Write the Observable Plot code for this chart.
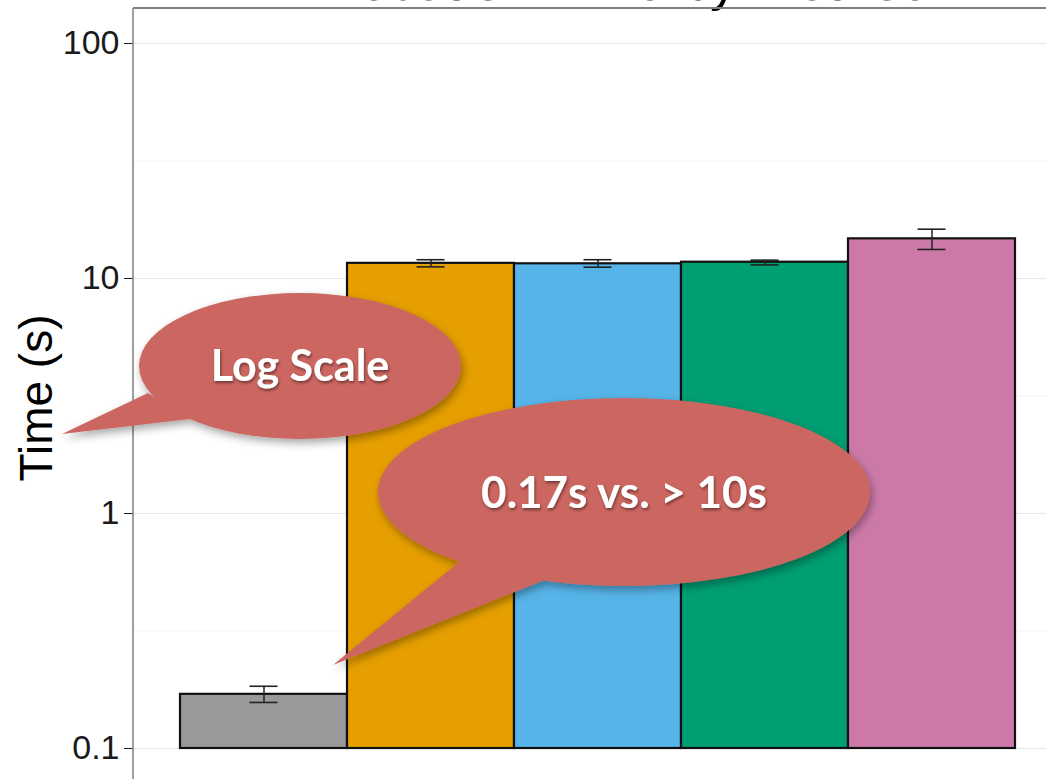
<!DOCTYPE html>
<html>
<head>
<meta charset="utf-8">
<script src="https://cdn.jsdelivr.net/npm/d3@7"></script>
<script src="https://cdn.jsdelivr.net/npm/@observablehq/plot@0.6"></script>
<style>
  html, body { margin: 0; padding: 0; background: #ffffff; }
  #chart { width: 1046px; height: 779px; overflow: hidden; }
</style>
</head>
<body>
<div id="chart"></div>
<script>
// ---- data ----
const systems = ["System 1", "System 2", "System 3", "System 4", "System 5"];
const times   = [0.17, 11.6, 11.55, 11.73, 14.75];
const lower   = [0.157, 11.21, 11.17, 11.43, 13.29];
const upper   = [0.184, 12.02, 12.02, 11.97, 16.21];
const colors  = ["#999999", "#E69F00", "#56B4E9", "#009E73", "#CC79A7"];
const majorTicks = [0.1, 1, 10, 100];
const tickLabels = ["0.1", "1", "10", "100"];
const minorTicks = [0.316, 3.16, 31.6];
const titleText = "Execution Time by Method";
const yLabel = "Time (s)";
const callouts = [
  { text: "Log Scale", cx: 300, cy: 366, rx: 161, ry: 73, tail: [[148, 393], [62, 434], [190, 419]], size: 43 },
  { text: "0.17s vs. > 10s", cx: 624, cy: 492, rx: 246, ry: 94, tail: [[459, 562], [333, 665], [545, 580]], size: 44 }
];

const data = systems.map((s, i) => ({ system: s, time: times[i], lo: lower[i], hi: upper[i], color: colors[i] }));
const labelOf = new Map(majorTicks.map((t, i) => [t, tickLabels[i]]));

const W = 1046, H = 779;
const chart = Plot.plot({
  width: W,
  height: H,
  marginLeft: 133,
  marginRight: 0,
  marginTop: 8,
  marginBottom: 0,
  style: { fontFamily: "'Liberation Sans', Arial, Helvetica, sans-serif", fontSize: "34px", color: "#1a1a1a", background: "white", overflow: "hidden" },
  x: { type: "band", domain: systems, range: [180, 1015], padding: 0, axis: null },
  y: {
    type: "log", domain: [0.1, 100], range: [748, 43],
    ticks: majorTicks, tickFormat: d => labelOf.get(d), tickSize: 9, tickPadding: 5, label: null
  },
  color: { type: "identity" },
  marks: [
    Plot.ruleY(minorTicks, { stroke: "#f2f2f2", strokeWidth: 1 }),
    Plot.ruleY(majorTicks, { stroke: "#e6e6e6", strokeWidth: 1 }),
    Plot.barY(data, { x: "system", y1: () => 0.1, y2: "time", fill: "color", stroke: "#111", strokeWidth: 2.2, inset: 0 }),
    Plot.ruleX(data, { x: "system", y1: "lo", y2: "hi", stroke: "#222", strokeWidth: 1.5 }),
    Plot.tickY(data, { x: "system", y: "lo", stroke: "#222", strokeWidth: 1.6, insetLeft: 69.5, insetRight: 69.5 }),
    Plot.tickY(data, { x: "system", y: "hi", stroke: "#222", strokeWidth: 1.6, insetLeft: 69.5, insetRight: 69.5 })
  ]
});

document.getElementById("chart").appendChild(chart);

// ---- overlay: panel border, title, axis title, callouts ----
const svg = d3.select(chart);
const ns = svg.append("g");

// title (cut off at the top, as in the reference)
ns.append("text").attr("x", 614).attr("y", 0).attr("text-anchor", "middle")
  .attr("font-size", 54).attr("fill", "#000").text(titleText);

// panel border (top + left)
ns.append("line").attr("x1", 133).attr("x2", W).attr("y1", 8).attr("y2", 8)
  .attr("stroke", "#7f7f7f").attr("stroke-width", 2);
ns.append("line").attr("x1", 133).attr("x2", 133).attr("y1", 8).attr("y2", H)
  .attr("stroke", "#7f7f7f").attr("stroke-width", 1.5);

// y axis title
ns.append("text").attr("transform", "translate(52,398) rotate(-90)")
  .attr("text-anchor", "middle").attr("font-size", 46).attr("fill", "#000").text(yLabel);

// drop shadow filters
const defs = svg.append("defs");
const f = defs.append("filter").attr("id", "bshadow").attr("x", "-20%").attr("y", "-20%").attr("width", "140%").attr("height", "150%");
f.append("feDropShadow").attr("dx", 2).attr("dy", 4).attr("stdDeviation", 4)
  .attr("flood-color", "#000").attr("flood-opacity", 0.35);
const ft = defs.append("filter").attr("id", "tshadow").attr("x", "-10%").attr("y", "-20%").attr("width", "120%").attr("height", "150%");
ft.append("feDropShadow").attr("dx", 1).attr("dy", 2).attr("stdDeviation", 1.5)
  .attr("flood-color", "#000").attr("flood-opacity", 0.45);

for (const c of callouts) {
  const g = ns.append("g").attr("filter", "url(#bshadow)");
  g.append("ellipse").attr("cx", c.cx).attr("cy", c.cy).attr("rx", c.rx).attr("ry", c.ry).attr("fill", "#CC6660");
  g.append("path").attr("d", "M" + c.tail.map(p => p.join(",")).join("L") + "Z").attr("fill", "#CC6660");
  ns.append("text").attr("x", c.cx).attr("y", c.cy).attr("dy", "0.36em").attr("text-anchor", "middle")
    .attr("font-family", "Lato, 'Open Sans', sans-serif").attr("font-weight", 700)
    .attr("font-size", c.size).attr("fill", "#fff").attr("filter", "url(#tshadow)").text(c.text);
}
</script>
</body>
</html>
